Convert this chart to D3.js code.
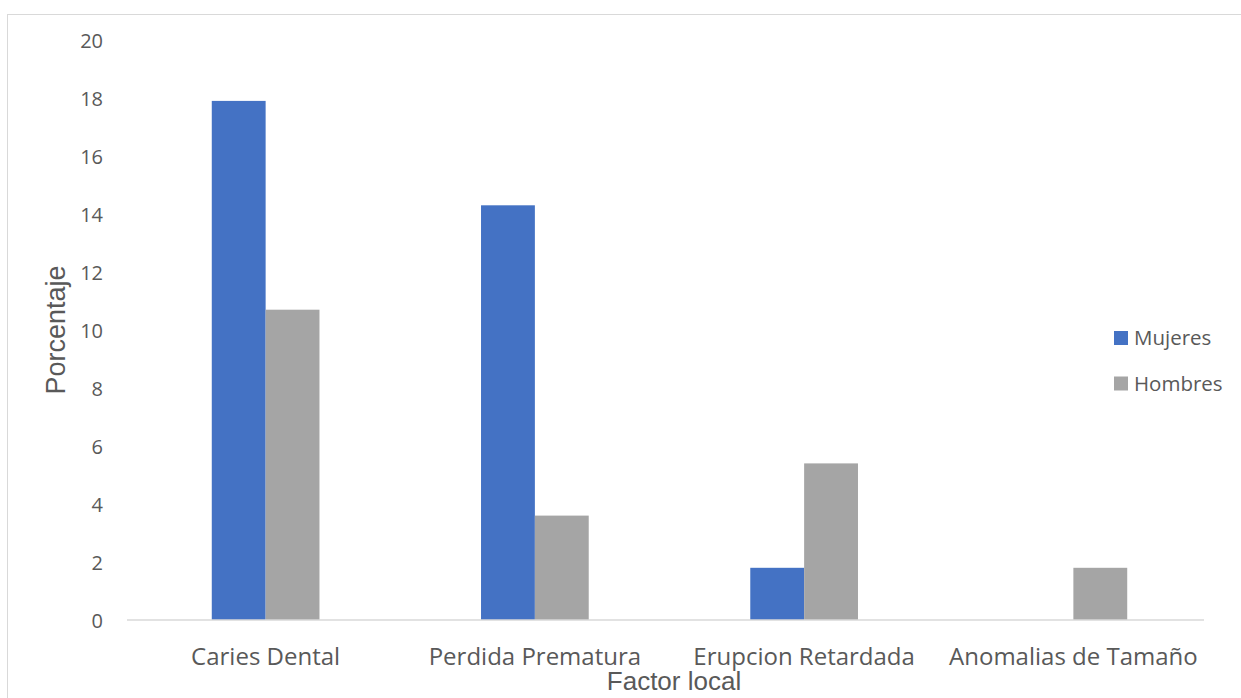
<!DOCTYPE html>
<html>
<head>
<meta charset="utf-8">
<script src="https://cdn.jsdelivr.net/npm/d3@7"></script>
<style>
  html, body { margin: 0; padding: 0; background: #fff; overflow: hidden; }
  svg { display: block; }
</style>
</head>
<body>
<svg id="chart" width="1241" height="698"></svg>
<script>
// Factores locales por sexo (porcentaje)
const categories = ["Caries Dental", "Perdida Prematura", "Erupcion Retardada", "Anomalias de Tamaño"];
const seriesNames = ["Mujeres", "Hombres"];
const mujeres = [17.9, 14.3, 1.8, 0];
const hombres = [10.7, 3.6, 5.4, 1.8];
const yTicks = [0, 2, 4, 6, 8, 10, 12, 14, 16, 18, 20];
const colors = ["#4472C4", "#A5A5A5"];
const yTitle = "Porcentaje";
const xTitle = "Factor local";

const values = [mujeres, hombres];
const rows = categories.map((c, i) => ({ cat: c, vals: seriesNames.map((s, j) => ({ s, v: values[j][i], c: colors[j] })) }));

const svg = d3.select("#chart");
const textColor = "#595959";
const gridColor = "#D9D9D9";

// chart area frame
svg.append("rect")
  .attr("x", 7.5).attr("y", 14.5)
  .attr("width", 1300).attr("height", 800)
  .attr("fill", "none").attr("stroke", gridColor).attr("stroke-width", 1);

const plot = { left: 131, right: 1208, top: 40, bottom: 620 };

const x = d3.scaleBand().domain(categories).range([plot.left, plot.right]).padding(0);
const groupW = x.bandwidth() * 0.4;
const x1 = d3.scaleBand().domain(seriesNames)
  .range([x.bandwidth() / 2 - groupW / 2, x.bandwidth() / 2 + groupW / 2]).padding(0);
const y = d3.scaleLinear().domain([0, 20]).range([plot.bottom, plot.top]);

// y axis labels (no line, no ticks)
const yAxis = d3.axisLeft(y).tickValues(yTicks).tickSize(0).tickPadding(0);
const gy = svg.append("g").attr("transform", `translate(103,0)`).call(yAxis);
gy.select(".domain").remove();
gy.selectAll("text")
  .attr("fill", textColor)
  .style("font-family", "'Open Sans', sans-serif")
  .style("font-size", "20px")
  .attr("dy", "0.35em");

// bars
const groups = svg.append("g").selectAll("g").data(rows).join("g")
  .attr("transform", d => `translate(${x(d.cat)},0)`);
groups.selectAll("rect").data(d => d.vals).join("rect")
  .attr("x", d => x1(d.s))
  .attr("width", x1.bandwidth())
  .attr("y", d => y(d.v))
  .attr("height", d => y(0) - y(d.v))
  .attr("fill", d => d.c);

// category axis
const xAxis = d3.axisBottom(x).tickSize(0).tickPadding(0);
const gx = svg.append("g").attr("transform", `translate(0,${y(0)})`).call(xAxis);
gx.select(".domain")
  .attr("stroke", gridColor).attr("stroke-width", 1.5)
  .attr("d", `M${plot.left - 4},0H${plot.right - 4}`);
gx.selectAll("text")
  .attr("fill", textColor)
  .attr("y", 45)
  .attr("dy", 0)
  .style("font-family", "'Open Sans', sans-serif")
  .style("font-size", "24px");

// axis titles
svg.append("text")
  .attr("transform", `translate(65,${330}) rotate(-90)`)
  .attr("text-anchor", "middle")
  .attr("fill", textColor)
  .style("font-family", "'Liberation Sans', Arial, sans-serif")
  .style("font-size", "27px")
  .text(yTitle);

svg.append("text")
  .attr("x", 674).attr("y", 690)
  .attr("text-anchor", "middle")
  .attr("fill", textColor)
  .style("font-family", "'Liberation Sans', Arial, sans-serif")
  .style("font-size", "26px")
  .text(xTitle);

// legend
const legend = svg.append("g").selectAll("g").data(seriesNames).join("g")
  .attr("transform", (d, i) => `translate(1114,${331 + i * 45.5})`);
legend.append("rect")
  .attr("width", 14).attr("height", 14)
  .attr("fill", (d, i) => colors[i]);
legend.append("text")
  .attr("x", 20).attr("y", 7).attr("dy", "0.35em")
  .attr("fill", textColor)
  .style("font-family", "'Open Sans', sans-serif")
  .style("font-size", "20.5px")
  .text(d => d);
</script>
</body>
</html>
